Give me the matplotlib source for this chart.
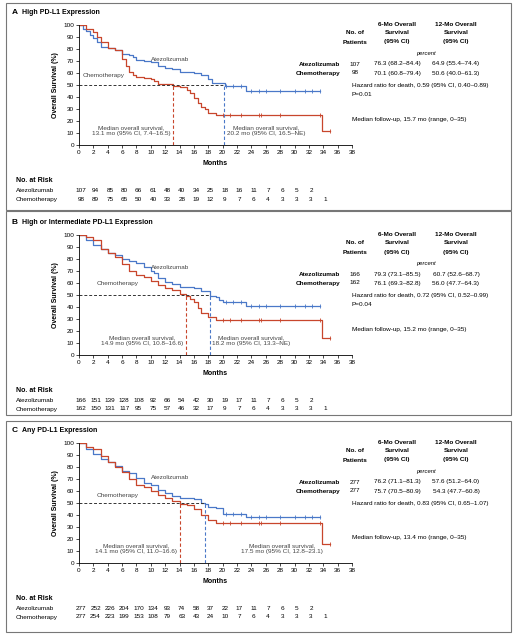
import numpy as np
import matplotlib
matplotlib.use("Agg")
import matplotlib.pyplot as plt
import matplotlib.transforms as mtrans
from matplotlib.patches import Rectangle

plt.rcParams.update({"font.family": ["Liberation Sans", "DejaVu Sans"], "font.size": 4.6})
BLUE, RED = "#4a78c8", "#c8462c"
W, H = 517, 635
FS = 4.6

# ---- data ----
a_atz_t = [0, .5, 1, 1.5, 2, 2.5, 3, 4, 5, 6, 7, 7.5, 8, 9, 10, 11, 12, 13, 14, 16, 17, 18, 18.5, 20.3, 23.3, 33.5]
a_atz_s = [100, 97, 95, 92, 89, 86, 82, 81, 79, 76, 75, 73, 71, 70, 69, 66, 64, 63, 61, 60, 58, 55, 52, 49, 45, 45]
a_che_t = [0, 1, 2, 2.5, 3, 4, 5, 6, 6.5, 7, 7.5, 8, 9, 10, 10.5, 11, 13.1, 14, 15, 15.5, 16, 16.5, 17, 17.5, 18, 19, 33.8, 35]
a_che_s = [100, 97, 94, 90, 86, 81, 79, 72, 66, 61, 58, 57, 56, 55, 53, 51, 49, 48, 46, 43, 39, 35, 32, 30, 27, 25, 12, 12]
b_atz_t = [0, 1, 2, 3, 4, 5, 6, 7, 8, 9, 10, 10.5, 11, 12, 13, 14, 16, 17, 18.2, 19, 19.5, 20, 23.3, 33.5]
b_atz_s = [100, 96, 92, 88, 85, 83, 80, 78, 77, 73, 70, 68, 64, 61, 59, 57, 56, 53, 49, 48, 46, 44, 41, 41]
b_che_t = [0, 1, 2, 3, 4, 5, 6, 7, 8, 9, 10, 11, 12, 13, 14, 14.9, 15.5, 16, 16.5, 17, 18, 19, 33.8, 35]
b_che_s = [100, 98, 96, 88, 85, 82, 76, 70, 67, 65, 62, 58, 56, 54, 51, 49, 47, 44, 39, 35, 32, 29, 14, 14]
c_atz_t = [0, 1, 2, 3, 4, 5, 6, 7, 8, 9, 10, 11, 12, 13, 14, 16, 17, 17.5, 18, 19, 20, 23.3, 33.5]
c_atz_s = [100, 95, 91, 87, 84, 81, 77, 75, 71, 67, 65, 61, 58, 56, 54, 53, 50, 49, 47, 46, 41, 38, 38]
c_che_t = [0, 1, 2, 3, 4, 5, 6, 7, 8, 9, 10, 11, 12, 13, 14.1, 15, 16, 17, 18, 19, 33.8, 35]
c_che_s = [100, 97, 95, 89, 84, 80, 76, 70, 65, 63, 60, 57, 54, 52, 49, 48, 45, 40, 36, 33, 16, 16]

atz_censor = [20.5, 21.5, 22.5, 24, 25, 26, 28, 30, 31.5, 32.5, 33.5]
che_censor = [20, 21, 22.5, 25, 25.3, 28, 33.5, 35]

risk_times = list(range(0, 36, 2))
a_risk_atz = [107, 94, 85, 80, 66, 61, 48, 40, 34, 25, 18, 16, 11, 7, 6, 5, 2]
a_risk_che = [98, 89, 75, 65, 50, 40, 33, 28, 19, 12, 9, 7, 6, 4, 3, 3, 3, 1]
b_risk_atz = [166, 151, 139, 128, 108, 92, 66, 54, 42, 30, 19, 17, 11, 7, 6, 5, 2]
b_risk_che = [162, 150, 131, 117, 95, 75, 57, 46, 32, 17, 9, 7, 6, 4, 3, 3, 3, 1]
c_risk_atz = [277, 252, 226, 204, 170, 134, 93, 74, 58, 37, 22, 17, 11, 7, 6, 5, 2]
c_risk_che = [277, 254, 223, 199, 153, 108, 79, 63, 43, 24, 10, 7, 6, 4, 3, 3, 3, 1]

panels = [
    dict(letter="A", title="High PD-L1 Expression", top=25, box=(3, 210),
         atz=(a_atz_t, a_atz_s), che=(a_che_t, a_che_s), med_atz=20.2, med_che=13.1,
         n=(107, 98), s6=("76.3 (68.2\u201384.4)", "70.1 (60.8\u201379.4)"),
         s12=("64.9 (55.4\u201374.4)", "50.6 (40.0\u201361.3)"),
         hr="Hazard ratio for death, 0.59 (95% CI, 0.40\u20130.89)", p="P=0.01",
         fu="Median follow-up, 15.7 mo (range, 0\u201335)",
         txt_che=("13.1 mo (95% CI, 7.4\u201316.5)", 12.8, "right"),
         txt_atz=("20.2 mo (95% CI, 16.5\u2013NE)", 20.6, "left"),
         lab_atz=(10, 70), lab_che=(0.5, 57), risk=(a_risk_atz, a_risk_che)),
    dict(letter="B", title="High or Intermediate PD-L1 Expression", top=235, box=(211, 415),
         atz=(b_atz_t, b_atz_s), che=(b_che_t, b_che_s), med_atz=18.2, med_che=14.9,
         n=(166, 162), s6=("79.3 (73.1\u201385.5)", "76.1 (69.3\u201382.8)"),
         s12=("60.7 (52.6\u201368.7)", "56.0 (47.7\u201364.3)"),
         hr="Hazard ratio for death, 0.72 (95% CI, 0.52\u20130.99)", p="P=0.04",
         fu="Median follow-up, 15.2 mo (range, 0\u201335)",
         txt_che=("14.9 mo (95% CI, 10.8\u201316.6)", 14.5, "right"),
         txt_atz=("18.2 mo (95% CI, 13.3\u2013NE)", 18.5, "left"),
         lab_atz=(10, 72), lab_che=(2.5, 58), risk=(b_risk_atz, b_risk_che)),
    dict(letter="C", title="Any PD-L1 Expression", top=443, box=(421, 632),
         atz=(c_atz_t, c_atz_s), che=(c_che_t, c_che_s), med_atz=17.5, med_che=14.1,
         n=(277, 277), s6=("76.2 (71.1\u201381.3)", "75.7 (70.5\u201380.9)"),
         s12=("57.6 (51.2\u201364.0)", "54.3 (47.7\u201360.8)"),
         hr="Hazard ratio for death, 0.83 (95% CI, 0.65\u20131.07)", p=None,
         fu="Median follow-up, 13.4 mo (range, 0\u201335)",
         txt_che=("14.1 mo (95% CI, 11.0\u201316.6)", 13.6, "right"),
         txt_atz=("17.5 mo (95% CI, 12.8\u201323.1)", 34, "right"),
         lab_atz=(10, 70), lab_che=(2.5, 55), risk=(c_risk_atz, c_risk_che)),
]

fig = plt.figure(figsize=(W / 100, H / 100), dpi=100)

def fy(py):
    return 1 - py / H

def surv_at(t, s, x):
    i = np.searchsorted(t, x, side="right") - 1
    return s[max(i, 0)]

for P in panels:
    top = P["top"]
    y0, y1 = P["box"]
    fig.patches.append(Rectangle((6 / W, fy(y1)), 505 / W, (y1 - y0) / H, transform=fig.transFigure,
                                 fill=False, ec="#777777", lw=0.8))
    fig.text(12 / W, fy(top - 13), P["letter"], fontsize=6, fontweight="bold", va="center")
    fig.text(22 / W, fy(top - 13), P["title"], fontsize=5, fontweight="bold", va="center")

    ax = fig.add_axes([79 / W, fy(top + 120), 273 / W, 120 / H])
    ax.set_xlim(0, 38); ax.set_ylim(0, 100)
    for side in ("top", "right"):
        ax.spines[side].set_visible(False)
    for side in ("left", "bottom"):
        ax.spines[side].set_linewidth(0.6)
    ax.set_xticks(range(0, 39, 2)); ax.set_yticks(range(0, 101, 10))
    ax.tick_params(length=2, width=0.5, pad=1.5, labelsize=4.6)
    ax.set_xlabel("Months", fontsize=5, fontweight="bold", labelpad=4)
    ax.set_ylabel("Overall Survival (%)", fontsize=5, fontweight="bold", labelpad=3)

    for (t, s), col, cens in ((P["atz"], BLUE, atz_censor), (P["che"], RED, che_censor)):
        ax.step(t, s, where="post", color=col, lw=0.9)
        cs = [c for c in cens if c <= t[-1]]
        ax.plot(cs, [surv_at(t, s, c) for c in cs], "|", color=col, ms=2.5, mew=0.6)
    ax.plot([0, P["med_atz"]], [50, 50], ls=(0, (3, 2)), color="#333333", lw=0.7)
    ax.plot([P["med_che"]] * 2, [0, 50], ls=(0, (3, 2)), color=RED, lw=0.8)
    ax.plot([P["med_atz"]] * 2, [0, 50], ls=(0, (3, 2)), color=BLUE, lw=0.8)
    ax.text(*P["lab_atz"], "Atezolizumab", color="#444444", fontsize=FS)
    ax.text(*P["lab_che"], "Chemotherapy", color="#444444", fontsize=FS)
    for txt, x, ha in (P["txt_che"], P["txt_atz"]):
        ax.text(x, 12, "Median overall survival,\n" + txt, ha=ha, va="center",
                color="#444444", fontsize=FS, linespacing=1.4, multialignment="center")

    # right-hand table
    tx = lambda px: px / W
    for i, line in enumerate(["No. of", "Patients"]):
        fig.text(tx(355), fy(top + 8 + 9 * i), line, ha="center", fontsize=FS, fontweight="bold", va="center")
    for cx, hdr in ((397, "6-Mo Overall"), (456, "12-Mo Overall")):
        for i, line in enumerate([hdr, "Survival", "(95% CI)"]):
            fig.text(tx(cx), fy(top - 1 + 9 * i), line, ha="center", fontsize=FS, fontweight="bold", va="center")
    fig.text(tx(426), fy(top + 28), "percent", ha="center", fontsize=4.2, style="italic", va="center")
    for i, name in enumerate(["Atezolizumab", "Chemotherapy"]):
        yy = fy(top + 39 + 9 * i)
        fig.text(tx(340), yy, name, ha="right", fontsize=FS, fontweight="bold", va="center")
        fig.text(tx(355), yy, str(P["n"][i]), ha="center", fontsize=FS, va="center")
        fig.text(tx(397), yy, P["s6"][i], ha="center", fontsize=FS, va="center")
        fig.text(tx(456), yy, P["s12"][i], ha="center", fontsize=FS, va="center")
    fig.text(tx(352), fy(top + 60), P["hr"], fontsize=FS, va="center")
    if P["p"]:
        fig.text(tx(352), fy(top + 69), P["p"], fontsize=FS, va="center")
    fig.text(tx(352), fy(top + 95), P["fu"], fontsize=FS, va="center")

    # number at risk
    tr = mtrans.blended_transform_factory(ax.transData, fig.transFigure)
    fig.text(16 / W, fy(top + 156), "No. at Risk", fontsize=5, fontweight="bold", va="center")
    for i, (name, row) in enumerate(zip(["Atezolizumab", "Chemotherapy"], P["risk"])):
        yy = fy(top + 165 + 9 * i)
        fig.text(16 / W, yy, name, fontsize=FS, va="center")
        for t, v in zip(risk_times, row):
            fig.text(t + 0.3, yy, str(v), transform=tr, ha="center", fontsize=FS, va="center")

fig.savefig("out.png", dpi=100)
